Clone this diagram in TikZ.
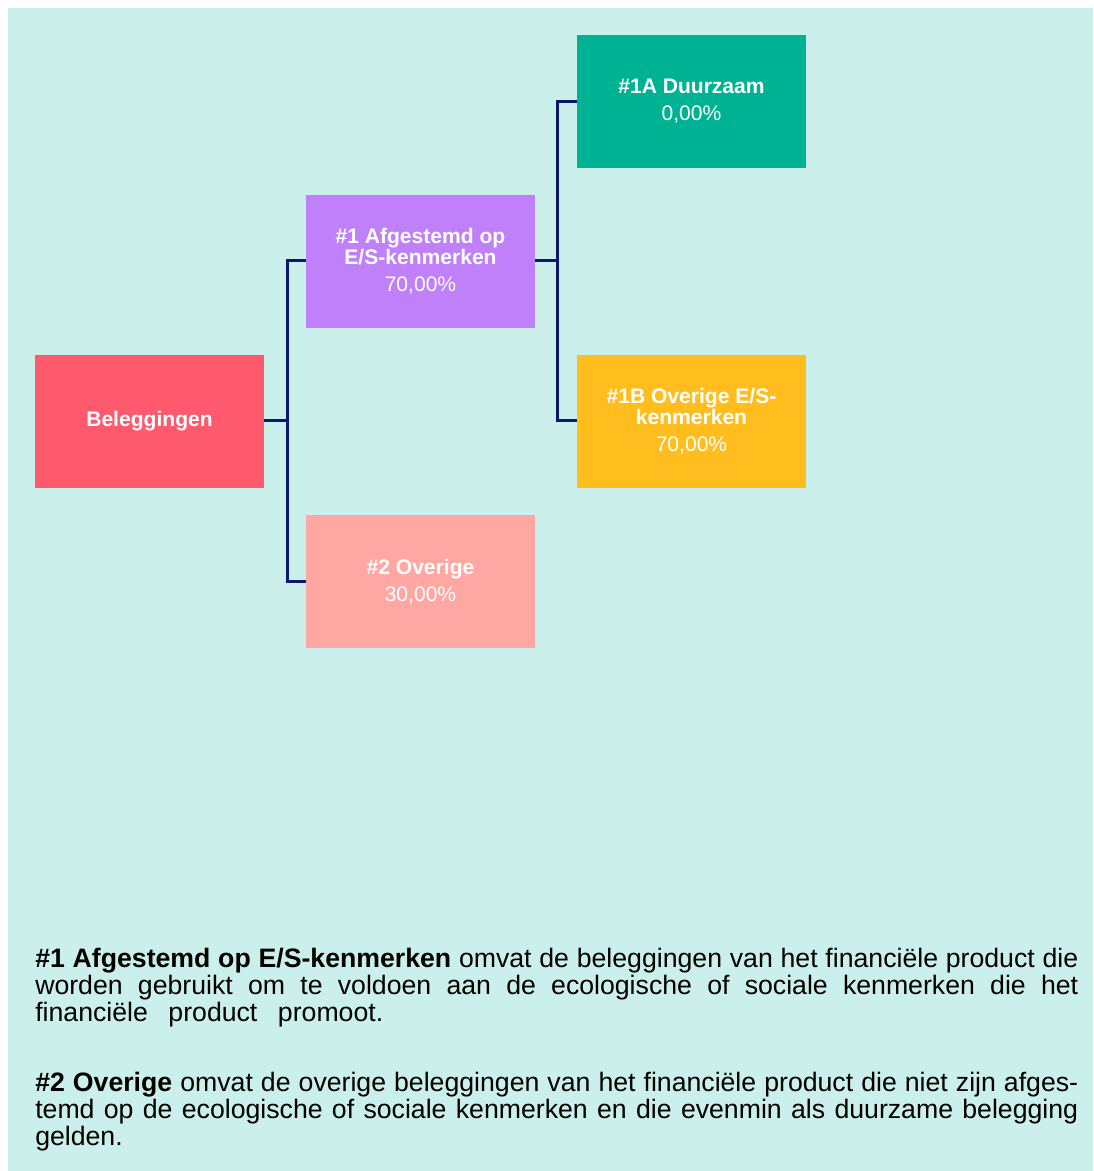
\documentclass[tikz,border=0pt]{standalone}
\usepackage{fontspec}
\setmainfont{Liberation Sans}
\definecolor{bgteal}{RGB}{203,240,236}
\definecolor{cred}{RGB}{255,89,110}
\definecolor{cpurple}{RGB}{191,128,250}
\definecolor{cpink}{RGB}{255,168,163}
\definecolor{cgreen}{RGB}{0,178,148}
\definecolor{cyellow}{RGB}{255,190,30}
\definecolor{cnavy}{RGB}{10,25,110}
\begin{document}
\begin{tikzpicture}[x=0.75pt,y=-0.75pt,
  box/.style={minimum width=171.75pt,minimum height=99.75pt,inner sep=0pt,
    text=white,align=center,font=\fontsize{15.8}{15.75}\selectfont\bfseries},
  conn/.style={draw=cnavy,line width=2.25pt},
  para/.style={anchor=base west,inner sep=0pt,font=\fontsize{20}{20.25}\selectfont}]
\useasboundingbox (0,0) rectangle (1093,1171);
\fill[bgteal] (8,8) rectangle (1093,1171);

\node[box,fill=cred] (bel) at (149.5,421.5) {Beleggingen};
\node[box,fill=cpurple] (a1) at (420.5,261.5) {\#1 Afgestemd op\\E/S-kenmerken\\[4.5pt]{\mdseries 70,00\%}};
\node[box,fill=cpink] (a2) at (420.5,581.5) {\#2 Overige\\[4.5pt]{\mdseries 30,00\%}};
\node[box,fill=cgreen] (b1a) at (691.5,101.5) {\#1A Duurzaam\\[4.5pt]{\mdseries 0,00\%}};
\node[box,fill=cyellow] (b1b) at (691.5,421.5) {\#1B Overige E/S-\\kenmerken\\[4.5pt]{\mdseries 70,00\%}};

\coordinate (j1) at (287,420);
\coordinate (j2) at (557,260);
\draw[conn] (bel.east |- j1) -- (j1);
\draw[conn] (a1.west |- j2) -- (j1 |- j2) -- (j1 |- a2.west) -- (a2.west);
\draw[conn] (a1.east |- j2) -- (j2);
\draw[conn] (b1a.west) -- (j2 |- b1a.west) -- (j2 |- j1) -- (b1b.west |- j1);

\node[para] (t1) at (35,967) {\makebox[782.25pt][s]{\bfseries \#1 Afgestemd op E/S-kenmerken\mdseries{} omvat de beleggingen van het financiële product die}};
\node[para] (t2) at (35,994) {\makebox[782.25pt][s]{worden gebruikt om te voldoen aan de ecologische of sociale kenmerken die het}};
\node[para] (t3) at (35,1021) {\makebox[261pt][s]{financiële product promoot.}};
\node[para] (t4) at (35,1091) {\makebox[782.25pt][s]{\bfseries \#2 Overige\mdseries{} omvat de overige beleggingen van het financiële product die niet zijn afges-}};
\node[para] (t5) at (35,1118) {\makebox[782.25pt][s]{temd op de ecologische of sociale kenmerken en die evenmin als duurzame belegging}};
\node[para] (t6) at (35,1145) {gelden.};
\end{tikzpicture}
\end{document}
